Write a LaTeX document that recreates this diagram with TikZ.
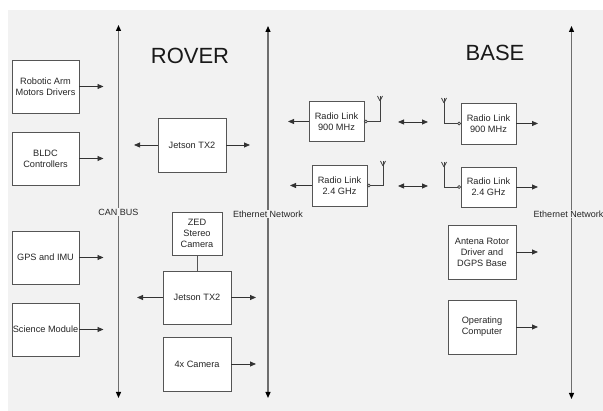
\documentclass[tikz,border=0pt]{standalone}
\usepackage{fontspec}
\setmainfont{Liberation Sans}
\usetikzlibrary{arrows.meta}
\definecolor{bg}{HTML}{F2F2F2}
\definecolor{edge}{HTML}{555555}
\definecolor{busgray}{HTML}{6E6E6E}
\begin{document}
\begin{tikzpicture}[x=1pt,y=-1pt,
  box/.style={draw=edge, fill=white, line width=0.9pt, align=center,
    font=\fontsize{9.2}{11}\selectfont, inner sep=0pt, text=black!85},
  arr/.style={-{Triangle[length=6pt,width=5pt]}, line width=0.8pt, draw=black!80},
  darr/.style={{Triangle[length=6pt,width=5pt]}-{Triangle[length=6pt,width=5pt]}, line width=0.8pt, draw=black!80},
  bus/.style={{Triangle[length=6pt,width=5pt,fill=black,color=black]}-{Triangle[length=6pt,width=5pt,fill=black,color=black]}, draw=busgray, line width=1.2pt},
  buslabel/.style={fill=bg, inner sep=1pt, font=\fontsize{9}{11}\selectfont, text=black!85},
  title/.style={font=\fontsize{22}{25}\selectfont, text=black!90},
  ant/.style={draw=black!75, line width=0.7pt}
]
\useasboundingbox (0,0) rectangle (603,411);
\fill[bg] (8,10) rectangle (603,411);

% titles
\node[title] (rover) at (190,56) {ROVER};
\node[title] (base) at (495,53) {BASE};

% buses
\coordinate (cantop) at (118.5,25);
\coordinate (canbot) at (118.5,398);
\coordinate (ethtop) at (268,26);
\coordinate (ethbot) at (268,398);
\coordinate (eth2top) at (571.5,26);
\coordinate (eth2bot) at (571.5,399);
\draw[bus] (cantop) -- (canbot);
\draw[bus] (ethtop) -- (ethbot);
\draw[bus] (eth2top) -- (eth2bot);
\node[buslabel] (canlbl) at (118.5,212) {CAN BUS};
\node[buslabel] (ethlbl) at (268,214) {Ethernet Network};
\node[buslabel] (eth2lbl) at (568.5,214) {Ethernet Network};

% left boxes
\node[box, minimum width=67, minimum height=53] (ra) at (45.5,86.5) {Robotic Arm\\Motors Drivers};
\node[box, minimum width=67, minimum height=53] (bldc) at (45.5,158.5) {BLDC\\Controllers};
\node[box, minimum width=67, minimum height=53] (gps) at (45.5,257.5) {GPS and IMU};
\node[box, minimum width=67, minimum height=53] (sci) at (45.5,329.5) {Science Module};
\coordinate (ra-t) at (103.5,86.5);
\coordinate (bldc-t) at (103.5,158.5);
\coordinate (gps-t) at (103.5,257.5);
\coordinate (sci-t) at (103.5,329.5);
\draw[arr] (ra) -- (ra-t);
\draw[arr] (bldc) -- (bldc-t);
\draw[arr] (gps) -- (gps-t);
\draw[arr] (sci) -- (sci-t);

% rover middle
\node[box, minimum width=68, minimum height=54] (j1) at (192,145) {Jetson TX2};
\coordinate (j1-l) at (134,145);
\coordinate (j1-r) at (250,145);
\draw[arr] (j1) -- (j1-l);
\draw[arr] (j1) -- (j1-r);

\node[box, minimum width=50, minimum height=43] (zed) at (197,233.5) {ZED\\Stereo\\Camera};
\node[box, minimum width=68, minimum height=53] (j2) at (197,297.5) {Jetson TX2};
\node[box, minimum width=68, minimum height=54] (cam) at (197,364) {4x Camera};
\draw[draw=edge, line width=0.9pt] (zed) -- (j2);
\coordinate (j2-l) at (137,297.5);
\coordinate (j2-r) at (256,297.5);
\coordinate (cam-r) at (256,364);
\draw[arr] (j2) -- (j2-l);
\draw[arr] (j2) -- (j2-r);
\draw[arr] (cam) -- (cam-r);

% rover radios
\node[box, minimum width=55, minimum height=40] (r900) at (336.5,121.5) {Radio Link\\900 MHz};
\node[box, minimum width=55, minimum height=41] (r24) at (339.5,185.5) {Radio Link\\2.4 GHz};
\coordinate (r900-l) at (288,121.5);
\coordinate (r24-l) at (290,185.5);
\draw[arr] (r900) -- (r900-l);
\draw[arr] (r24) -- (r24-l);

% base radios
\node[box, minimum width=55, minimum height=41] (b900) at (488.5,123.5) {Radio Link\\900 MHz};
\node[box, minimum width=55, minimum height=40] (b24) at (488.5,187) {Radio Link\\2.4 GHz};
\coordinate (b900-r) at (538,123.5);
\coordinate (b24-r) at (538,187);
\draw[arr] (b900) -- (b900-r);
\draw[arr] (b24) -- (b24-r);

% wireless links
\coordinate (l900a) at (398,122);
\coordinate (l900b) at (428,122);
\coordinate (l24a) at (398,186);
\coordinate (l24b) at (428,186);
\draw[darr] (l900a) -- (l900b);
\draw[darr] (l24a) -- (l24b);

% antennas
\draw[ant] ([xshift=1.5pt]r900.east) circle (1.5);
\draw[ant] ([xshift=3pt]r900.east) -- (380,121.5) -- (380,96);
\draw[ant] (380,101) -- (377.5,96) (380,101) -- (382.5,96);
\draw[ant] ([xshift=1.5pt]r24.east) circle (1.5);
\draw[ant] ([xshift=3pt]r24.east) -- (383,185.5) -- (383,161);
\draw[ant] (383,166) -- (380.5,161) (383,166) -- (385.5,161);
\draw[ant] ([xshift=-1.5pt]b900.west) circle (1.5);
\draw[ant] ([xshift=-3pt]b900.west) -- (444,123.5) -- (444,98);
\draw[ant] (444,103) -- (441.5,98) (444,103) -- (446.5,98);
\draw[ant] ([xshift=-1.5pt]b24.west) circle (1.5);
\draw[ant] ([xshift=-3pt]b24.west) -- (444,187) -- (444,162);
\draw[ant] (444,167) -- (441.5,162) (444,167) -- (446.5,162);

% base boxes
\node[box, minimum width=68, minimum height=54] (rot) at (482,252) {Antena Rotor\\Driver and\\DGPS Base};
\node[box, minimum width=68, minimum height=54] (opc) at (482,327) {Operating\\Computer};
\coordinate (rot-r) at (538,252);
\coordinate (opc-r) at (538,327);
\draw[arr] (rot) -- (rot-r);
\draw[arr] (opc) -- (opc-r);
\end{tikzpicture}
\end{document}
